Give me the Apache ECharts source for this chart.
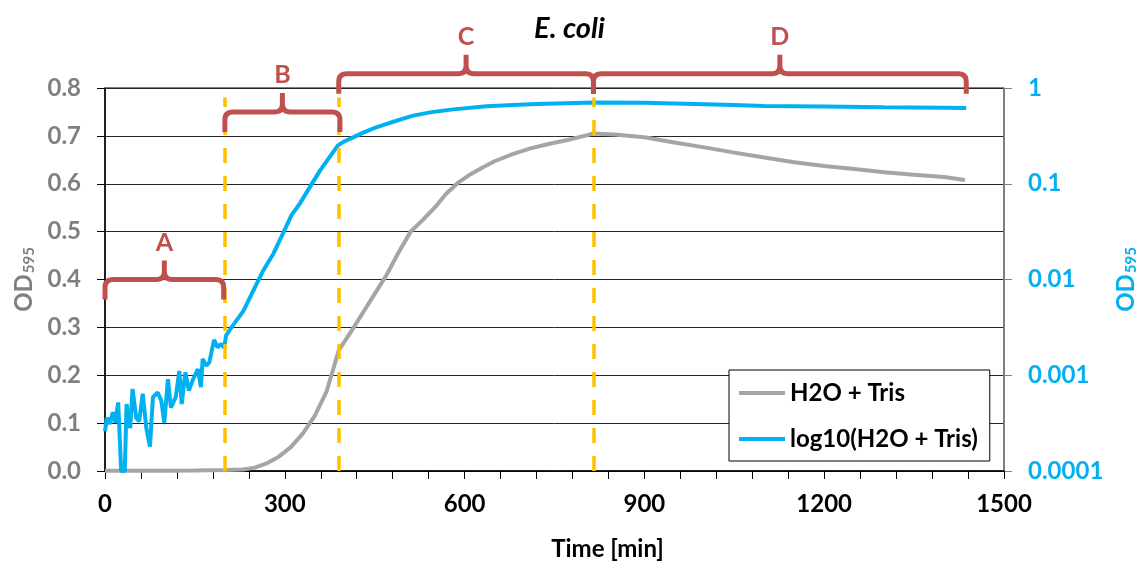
<!DOCTYPE html>
<html>
<head>
<meta charset="utf-8">
<script src="https://cdn.jsdelivr.net/npm/echarts@6/dist/echarts.min.js"></script>
<style>
  html, body { margin: 0; padding: 0; background: #fff; }
  #chart { width: 1139px; height: 567px; }
</style>
</head>
<body>
<div id="chart"></div>
<script>
// OD595, linear scale (grey)
var timeGray = [0, 50, 100, 150, 200, 230, 250, 270, 290, 310, 330, 350, 370, 390, 410, 430, 450,
    470, 490, 510, 530, 550, 570, 590, 610, 630, 650, 680, 710, 740, 770, 800, 815, 850, 900, 950,
    1000, 1050, 1100, 1150, 1200, 1250, 1300, 1350, 1400, 1435];
var odGray = [0.0003, 0.0004, 0.0006, 0.001, 0.002, 0.003, 0.007, 0.016, 0.03, 0.05, 0.078, 0.115,
    0.167, 0.252, 0.29, 0.33, 0.37, 0.41, 0.457, 0.5, 0.524, 0.55, 0.58, 0.603, 0.62, 0.634, 0.647,
    0.662, 0.674, 0.683, 0.691, 0.7, 0.705, 0.703, 0.697, 0.686, 0.676, 0.665, 0.655, 0.645, 0.637,
    0.631, 0.624, 0.619, 0.614, 0.608];

// OD595, log scale (blue)
var timeLog = [0, 3, 8, 13, 17, 22, 27, 33, 36, 42, 46, 52, 57, 63, 69, 75, 80, 88, 94, 99, 105,
    110, 118, 124, 128, 134, 140, 146, 155, 160, 163, 169, 174, 182, 188, 193, 199, 202, 211, 231,
    253, 264, 281, 298, 311, 325, 342, 359, 375, 389, 400, 414, 430, 448, 465, 481, 514, 545, 581,
    637, 680, 720, 770, 815, 900, 950, 1000, 1050, 1100, 1200, 1300, 1400, 1437];
var odLog = [0.00026, 0.00036, 0.00031, 0.00041, 0.00032, 0.00052, 0.0001, 0.0001, 0.0005, 0.00028,
    0.00072, 0.00036, 0.00033, 0.00064, 0.00028, 0.00018, 0.00059, 0.00066, 0.00054, 0.00032,
    0.00091, 0.00046, 0.00059, 0.00111, 0.0005, 0.00107, 0.00069, 0.00088, 0.00116, 0.00075,
    0.00148, 0.00126, 0.00136, 0.00234, 0.00195, 0.00212, 0.00195, 0.0026, 0.00316, 0.0047,
    0.009, 0.0124, 0.0186, 0.0313, 0.0468, 0.062, 0.0927, 0.138, 0.191, 0.253, 0.278, 0.305,
    0.34, 0.378, 0.412, 0.444, 0.515, 0.56, 0.598, 0.645, 0.665, 0.68, 0.695, 0.705, 0.7, 0.69,
    0.676, 0.663, 0.65, 0.64, 0.63, 0.622, 0.618];

// growth phases
var phaseTimes = [200, 390, 815];
var braceLabels = ['A', 'B', 'C', 'D'];
var braceStart = [0, 200, 390, 815];
var braceEnd = [198, 392, 815, 1437];
var braceLevel = [0.4, 0.75, 0.83, 0.83];

var xLabelStep = 300;
var leftTicks = ['0.0', '0.1', '0.2', '0.3', '0.4', '0.5', '0.6', '0.7', '0.8'];

var FONT = 'Lato, "Noto Sans", sans-serif';
var GREY = '#A5A5A5', BLUE = '#00B0F0', RED = '#C0504D', GOLD = '#FFC000';

function pairs(xs, ys) {
    return xs.map(function (x, i) { return [x, ys[i]]; });
}

function odName(color) {
    return {
        name: '{od|OD}{sub|595}',
        nameTextStyle: {
            rich: {
                od: {fontFamily: FONT, fontWeight: 'bold', fontSize: 24, color: color},
                sub: {fontFamily: FONT, fontWeight: 'bold', fontSize: 15, color: color,
                      verticalAlign: 'bottom', padding: [10, 0, 0, 1]}
            }
        }
    };
}

function renderBrace(params, api) {
    var level = api.value(2);
    var p0 = api.coord([api.value(0), level]);
    var p1 = api.coord([api.value(1), level]);
    var x0 = p0[0], x1 = p1[0], y = p0[1], xm = (x0 + x1) / 2;
    var r = 8, drop = 20, rise = 19;
    var d = 'M' + x0 + ' ' + (y + drop) +
        ' L' + x0 + ' ' + (y + r) +
        ' Q' + x0 + ' ' + y + ' ' + (x0 + r) + ' ' + y +
        ' L' + (xm - r) + ' ' + y +
        ' Q' + xm + ' ' + y + ' ' + xm + ' ' + (y - r) +
        ' L' + xm + ' ' + (y - rise) +
        ' M' + xm + ' ' + (y - r) +
        ' Q' + xm + ' ' + y + ' ' + (xm + r) + ' ' + y +
        ' L' + (x1 - r) + ' ' + y +
        ' Q' + x1 + ' ' + y + ' ' + x1 + ' ' + (y + r) +
        ' L' + x1 + ' ' + (y + drop);
    return {
        type: 'group',
        children: [{
            type: 'path',
            shape: {pathData: d},
            style: {fill: 'none', stroke: RED, lineWidth: 5}
        }, {
            type: 'text',
            style: {
                text: braceLabels[params.dataIndex], x: xm, y: y - 37,
                align: 'center', verticalAlign: 'middle',
                font: 'bold 25px ' + FONT, fill: RED
            }
        }]
    };
}

var chart = echarts.init(document.getElementById('chart'));

var leftAxis = Object.assign({
    type: 'value',
    position: 'left',
    min: 0, max: 0.8, interval: 0.1,
    nameLocation: 'middle', nameRotate: 90, nameGap: 64,
    axisLine: {show: true, lineStyle: {color: '#000', width: 1.5}},
    axisTick: {show: true, length: 8, lineStyle: {color: '#000'}},
    axisLabel: {
        margin: 24, color: '#7F7F7F', fontFamily: FONT, fontWeight: 'bold', fontSize: 24,
        formatter: function (v) { return leftTicks[Math.round(v * 10)]; }
    },
    splitLine: {show: true, lineStyle: {color: '#262626', width: 1}}
}, odName('#7F7F7F'));

var rightAxis = Object.assign({
    type: 'log',
    logBase: 10,
    position: 'right',
    min: 0.0001, max: 1,
    nameLocation: 'middle', nameRotate: 90, nameGap: 105,
    axisLine: {show: true, lineStyle: {color: '#7F7F7F', width: 1.5}},
    axisTick: {show: true, length: 8, lineStyle: {color: '#7F7F7F'}},
    axisLabel: {
        margin: 24, color: BLUE, fontFamily: FONT, fontWeight: 'bold', fontSize: 24,
        formatter: function (v) { return String(+Number(v).toPrecision(1)); }
    },
    splitLine: {show: false}
}, odName(BLUE));

chart.setOption({
    animation: false,
    backgroundColor: '#fff',
    title: {
        text: 'E. coli',
        left: 'center',
        top: 9,
        textStyle: {fontFamily: FONT, fontWeight: 'bold', fontStyle: 'italic', fontSize: 29, color: '#000'}
    },
    grid: {
        left: 105, right: 135, top: 88, bottom: 96,
        outerBoundsMode: 'none', containLabel: false,
        show: true, borderColor: '#000', borderWidth: 1
    },
    legend: {
        left: 729, top: 370,
        orient: 'vertical',
        backgroundColor: '#fff',
        borderColor: '#000', borderWidth: 1,
        padding: [11, 12, 10, 10],
        itemGap: 22,
        itemWidth: 46, itemHeight: 4,
        icon: 'rect',
        textStyle: {fontFamily: FONT, fontWeight: 'bold', fontSize: 24, color: '#000'},
        data: ['H2O + Tris', 'log10(H2O + Tris)']
    },
    xAxis: {
        type: 'value',
        min: 0, max: 1500, interval: 60,
        name: 'Time [min]',
        nameLocation: 'middle',
        nameGap: 66,
        nameTextStyle: {fontFamily: FONT, fontWeight: 'bold', fontSize: 24, color: '#000', padding: [0, 0, 0, 106]},
        axisLine: {show: true, onZero: false, lineStyle: {color: '#000', width: 1.5}},
        axisTick: {show: true, length: 8, lineStyle: {color: '#000'}},
        axisLabel: {
            margin: 21, color: '#000', fontFamily: FONT, fontWeight: 'bold', fontSize: 24,
            formatter: function (v) { return v % xLabelStep === 0 ? String(v) : ''; }
        },
        splitLine: {show: false}
    },
    yAxis: [leftAxis, rightAxis],
    series: [{
        name: 'H2O + Tris',
        type: 'line',
        yAxisIndex: 0,
        data: pairs(timeGray, odGray),
        symbol: 'none',
        lineStyle: {color: GREY, width: 4},
        itemStyle: {color: GREY},
        z: 3,
        markLine: {
            silent: true,
            symbol: ['none', 'none'],
            label: {show: false},
            lineStyle: {color: GOLD, width: 3.5, type: [15, 13]},
            data: phaseTimes.map(function (t) {
                return [{coord: [t, 0]}, {coord: [t, 0.78]}];
            })
        }
    }, {
        name: 'log10(H2O + Tris)',
        type: 'line',
        yAxisIndex: 1,
        data: pairs(timeLog, odLog),
        symbol: 'none',
        lineStyle: {color: BLUE, width: 4},
        itemStyle: {color: BLUE},
        z: 4
    }, {
        type: 'custom',
        xAxisIndex: 0,
        yAxisIndex: 0,
        renderItem: renderBrace,
        clip: false,
        silent: true,
        z: 5,
        data: braceLabels.map(function (l, i) {
            return [braceStart[i], braceEnd[i], braceLevel[i]];
        })
    }]
});
</script>
</body>
</html>
